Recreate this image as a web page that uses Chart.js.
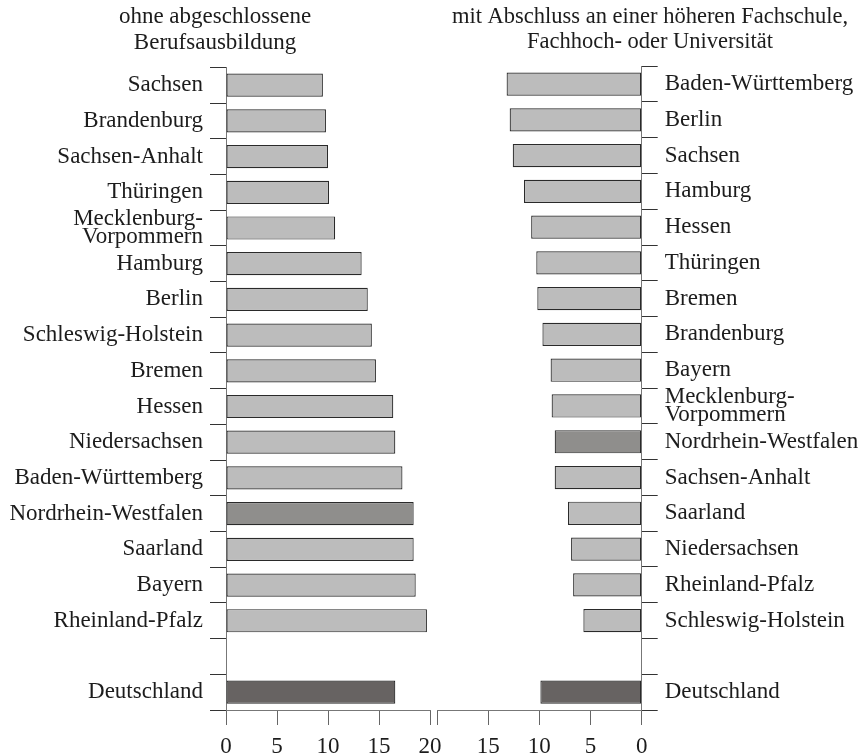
<!DOCTYPE html>
<html>
<head>
<meta charset="utf-8">
<script src="https://cdn.jsdelivr.net/npm/chart.js@4/dist/chart.umd.min.js"></script>
<style>
  body { margin: 0; background: #fff; }
  #wrap { position: relative; width: 863px; height: 754px; }
  canvas { position: absolute; top: 0; }
  #leftChart { left: 0; }
  #rightChart { left: 420px; }
</style>
</head>
<body>
<div id="wrap">
  <canvas id="leftChart" width="450" height="754"></canvas>
  <canvas id="rightChart" width="443" height="754"></canvas>
</div>
<script>
const leftTitle = ["ohne abgeschlossene", "Berufsausbildung"];
const leftLabels = ["Sachsen", "Brandenburg", "Sachsen-Anhalt", "Thüringen", ["Mecklenburg-", "Vorpommern"],
  "Hamburg", "Berlin", "Schleswig-Holstein", "Bremen", "Hessen", "Niedersachsen", "Baden-Württemberg",
  "Nordrhein-Westfalen", "Saarland", "Bayern", "Rheinland-Pfalz", "", "Deutschland"];
const leftValues = [9.5, 9.8, 10.0, 10.1, 10.7, 13.3, 13.9, 14.3, 14.7, 16.4, 16.6, 17.3, 18.4, 18.4, 18.6, 19.7, null, 16.6];

const rightTitle = ["mit Abschluss an einer höheren Fachschule,", "Fachhoch- oder Universität"];
const rightLabels = ["Baden-Württemberg", "Berlin", "Sachsen", "Hamburg", "Hessen", "Thüringen", "Bremen",
  "Brandenburg", "Bayern", ["Mecklenburg-", "Vorpommern"], "Nordrhein-Westfalen", "Sachsen-Anhalt",
  "Saarland", "Niedersachsen", "Rheinland-Pfalz", "Schleswig-Holstein", "", "Deutschland"];
const rightValues = [13.2, 12.9, 12.6, 11.5, 10.8, 10.3, 10.2, 9.7, 8.9, 8.8, 8.5, 8.5, 7.2, 6.9, 6.7, 5.7, null, 9.9];

const xMin = 0, xMax = 20, xStep = 5;

const fontFamily = "'Liberation Serif', 'DejaVu Serif', serif";
const textColor = "#1c1c1c";

function barColors(labels) {
  return labels.map(l => {
    if (l === "Deutschland") return "#676362";
    if (l === "Nordrhein-Westfalen") return "#8f8e8c";
    return "#bcbcbc";
  });
}

function makeChart(id, labels, values, title, right) {
  let ctx = document.getElementById(id).getContext('2d');
  return new Chart(ctx, {
    type: "bar",
    data: {
      labels: labels,
      datasets: [{
        data: values,
        backgroundColor: barColors(labels),
        borderColor: "#2a2a2a",
        borderWidth: 1.2,
        borderSkipped: false,
        barPercentage: 0.65,
        categoryPercentage: 1.0,
      }]
    },
    options: {
      indexAxis: 'y',
      responsive: false,
      animation: false,
      layout: {
        padding: right ? { left: 17, right: 0, top: 0, bottom: 0 } : { left: 0, right: 20, top: 0, bottom: 0 },
      },
      plugins: {
        legend: { display: false },
        tooltip: { enabled: false },
        title: {
          display: true,
          text: title,
          color: textColor,
          font: { family: fontFamily, size: right ? 22.5 : 23, lineHeight: 1.12, weight: 'normal' },
          padding: { top: 4, bottom: 11.8 },
        },
      },
      scales: {
        x: {
          min: xMin,
          max: xMax,
          reverse: right,
          afterFit: (s) => { s.height = 44; },
          ticks: {
            stepSize: xStep,
            color: textColor,
            padding: 8,
            maxRotation: 0,
            font: { family: fontFamily, size: 23 },
            // the shared 20 is only labelled once, under the left panel
            callback: (v) => (right && v === xMax) ? '' : v,
          },
          grid: {
            drawOnChartArea: false,
            tickLength: 15,
            color: "#666",
          },
          border: { color: "#777", width: 1 },
        },
        y: {
          position: right ? 'right' : 'left',
          afterFit: (s) => { s.width = right ? 221.3 : 226; },
          ticks: {
            color: textColor,
            padding: 7,
            autoSkip: false,
            font: { family: fontFamily, size: 23, lineHeight: 0.8 },
          },
          grid: {
            offset: true,
            drawOnChartArea: false,
            tickLength: 16,
            color: "#333",
          },
          border: { color: "#777", width: 1 },
        }
      }
    }
  });
}

let leftChart = makeChart('leftChart', leftLabels, leftValues, leftTitle, false);
let rightChart = makeChart('rightChart', rightLabels, rightValues, rightTitle, true);
</script>
</body>
</html>
